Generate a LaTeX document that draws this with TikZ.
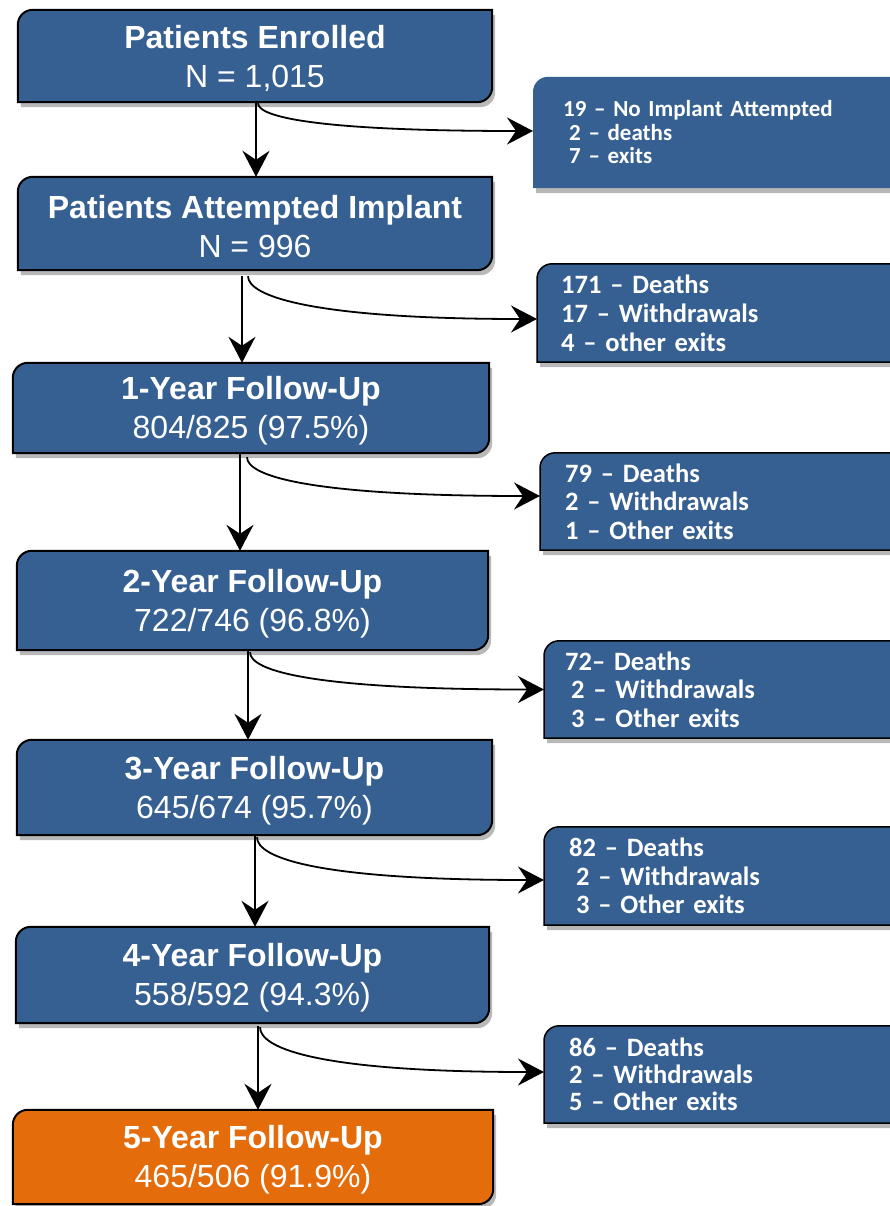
\documentclass[tikz,border=0pt]{standalone}
\usepackage{fontspec}
\setmainfont{Liberation Sans}
\newfontfamily\calfont{Carlito}
\usetikzlibrary{arrows.meta,shadows,backgrounds}
\definecolor{boxblue}{RGB}{54,96,146}
\definecolor{boxorange}{RGB}{228,108,10}
\newcommand{\rr}{15pt}
\newcommand{\tstrut}{\rule{0pt}{29pt}}
\newcommand{\mshape}[2]{%
  \path[draw=black,line width=2pt,fill=#2,boxshadow]
    (#1.south west) -- ([yshift=-\rr]#1.north west)
    arc[start angle=180,end angle=90,radius=\rr] -- (#1.north east)
    -- ([yshift=\rr]#1.south east)
    arc[start angle=0,end angle=-90,radius=\rr] -- cycle;}
\newcommand{\sshape}[2]{%
  \path[#2,fill=boxblue,boxshadow]
    (#1.south west) -- ([yshift=-\rr]#1.north west)
    arc[start angle=180,end angle=90,radius=\rr] -- (#1.north east)
    -- (#1.south east) -- cycle;}
\begin{document}
\begin{tikzpicture}[x=1pt,y=1pt,
  boxshadow/.style={drop shadow={shadow xshift=3pt,shadow yshift=-5pt,opacity=0.28,fill=black}},
  mainbox/.style={inner sep=0pt,text=white,align=center,
    font=\fontsize{32}{39}\selectfont},
  sidebox/.style={anchor=west,inner ysep=0pt,text=white,align=left,text width=340pt,
    font=\calfont\bfseries\fontsize{26.5}{28.5}\selectfont},
  varr/.style={line width=2pt,-{Stealth[length=26pt,width=27pt,inset=9pt]}},
  carr/.style={line width=1.8pt,-{Stealth[length=26pt,width=27pt,inset=9pt]}}
]
\useasboundingbox (0,0) rectangle (889,-1206);

% main boxes
\node[mainbox,minimum width=474pt,minimum height=92pt] (E) at (255,-56)
  {\tstrut\textbf{Patients Enrolled}\\N = 1,015};
\node[mainbox,minimum width=474pt,minimum height=93pt] (A) at (255,-223.5)
  {\tstrut\textbf{Patients Attempted Implant}\\N = 996};
\node[mainbox,minimum width=476pt,minimum height=90pt] (Y1) at (251,-408)
  {\tstrut\textbf{1-Year Follow-Up}\\804/825 (97.5\%)};
\node[mainbox,minimum width=471pt,minimum height=99pt] (Y2) at (252.5,-600.5)
  {\tstrut\textbf{2-Year Follow-Up}\\722/746 (96.8\%)};
\node[mainbox,minimum width=475pt,minimum height=95pt] (Y3) at (254.5,-787.5)
  {\tstrut\textbf{3-Year Follow-Up}\\645/674 (95.7\%)};
\node[mainbox,minimum width=473pt,minimum height=96pt] (Y4) at (252.5,-975)
  {\tstrut\textbf{4-Year Follow-Up}\\558/592 (94.3\%)};
\node[mainbox,minimum width=480pt,minimum height=94pt] (Y5) at (253,-1157)
  {\tstrut\textbf{5-Year Follow-Up}\\465/506 (91.9\%)};

% side boxes
\node[sidebox,minimum height=111pt,inner xsep=30pt,
  font=\calfont\bfseries\fontsize{23}{23.5}\selectfont] (S1) at (533,-132.5)
  {19 – No Implant Attempted\\\hspace*{6pt}2 – deaths\\\hspace*{6pt}7 – exits};
\node[sidebox,minimum height=98pt,inner xsep=24pt,
  font=\calfont\bfseries\fontsize{26.5}{29}\selectfont] (S2) at (537,-313)
  {171 – Deaths\\17 – Withdrawals\\4 – other exits};
\node[sidebox,minimum height=97pt,inner xsep=25pt] (S3) at (540,-501.5)
  {79 – Deaths\\2 – Withdrawals\\1 – Other exits};
\node[sidebox,minimum height=97pt,inner xsep=21pt] (S4) at (544,-689.5)
  {72– Deaths\\\hspace*{6pt}2 – Withdrawals\\\hspace*{6pt}3 – Other exits};
\node[sidebox,minimum height=98pt,inner xsep=25pt] (S5) at (544,-876)
  {82 – Deaths\\\hspace*{7pt}2 – Withdrawals\\\hspace*{7pt}3 – Other exits};
\node[sidebox,minimum height=97pt,inner xsep=25pt,
  font=\calfont\bfseries\fontsize{26.5}{27}\selectfont] (S6) at (544,-1074.5)
  {86 – Deaths\\2 – Withdrawals\\5 – Other exits};

\begin{pgfonlayer}{background}
  \mshape{E}{boxblue}
  \mshape{A}{boxblue}
  \mshape{Y1}{boxblue}
  \mshape{Y2}{boxblue}
  \mshape{Y3}{boxblue}
  \mshape{Y4}{boxblue}
  \mshape{Y5}{boxorange}
  \sshape{S1}{draw=none}
  \sshape{S2}{draw=black,line width=1.5pt}
  \sshape{S3}{draw=black,line width=1.5pt}
  \sshape{S4}{draw=black,line width=1.5pt}
  \sshape{S5}{draw=black,line width=1.5pt}
  \sshape{S6}{draw=black,line width=1.5pt}
\end{pgfonlayer}

% vertical arrows
\draw[varr] ([xshift=1pt,yshift=-1pt]E.south) -- ([xshift=1pt]A.north);
\draw[varr] ([xshift=-13pt,yshift=-6pt]A.south) -- ([xshift=-9pt]Y1.north);
\draw[varr] ([xshift=-11pt,yshift=-1pt]Y1.south) -- ([xshift=-12.5pt]Y2.north);
\draw[varr] ([xshift=-4.5pt,yshift=-1pt]Y2.south) -- ([xshift=-6.5pt]Y3.north);
\draw[varr] ([xshift=0.5pt,yshift=-1pt]Y3.south) -- ([xshift=2.5pt]Y4.north);
\draw[varr] ([xshift=5.5pt,yshift=-3pt]Y4.south) -- ([xshift=5pt]Y5.north);

% curved arrows
\draw[carr] ([xshift=3pt,yshift=-1pt]E.south)
  to[out=-90,in=180,out distance=14pt,in distance=215pt] ([yshift=1.5pt]S1.west);
\draw[carr] ([xshift=-7pt,yshift=-6pt]A.south)
  to[out=-90,in=180,out distance=20pt,in distance=225pt] ([yshift=-6pt]S2.west);
\draw[carr] ([xshift=-4pt,yshift=-4pt]Y1.south)
  to[out=-90,in=180,out distance=19pt,in distance=230pt] ([yshift=5.5pt]S3.west);
\draw[carr] ([xshift=-2.5pt,yshift=-2pt]Y2.south)
  to[out=-90,in=180,out distance=19pt,in distance=230pt] (S4.west);
\draw[carr] ([xshift=2.5pt,yshift=-2pt]Y3.south)
  to[out=-90,in=180,out distance=21pt,in distance=225pt] ([yshift=-4pt]S5.west);
\draw[carr] ([xshift=7.5pt,yshift=-4pt]Y4.south)
  to[out=-90,in=180,out distance=22pt,in distance=222pt] ([yshift=2.5pt]S6.west);
\end{tikzpicture}
\end{document}
